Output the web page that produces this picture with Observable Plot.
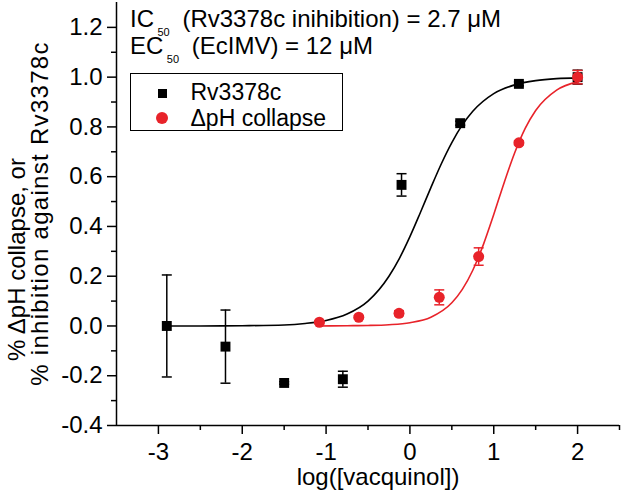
<!DOCTYPE html>
<html><head><meta charset="utf-8">
<script src="https://cdn.jsdelivr.net/npm/d3@7"></script>
<script src="https://cdn.jsdelivr.net/npm/@observablehq/plot@0.6"></script>
<style>
html,body{margin:0;padding:0;background:#fff;}
#wrap{position:relative;width:641px;height:499px;font-family:'Liberation Sans',Arial,Helvetica,sans-serif;color:#000;overflow:hidden;}
#wrap svg{position:absolute;left:0;top:0;}
.ann{position:absolute;left:130px;font-size:24px;line-height:20px;white-space:nowrap;}
.sub{font-size:11px;position:relative;top:9.4px;margin-left:3.5px;margin-right:6px;}
.lgbox{position:absolute;left:130px;top:73px;width:213px;height:58px;box-sizing:border-box;border:1.5px solid #000;}
.lgtxt{position:absolute;font-size:23px;line-height:20px;white-space:nowrap;}
.lgsq{position:absolute;width:9px;height:9px;}
.lgci{position:absolute;width:12px;height:12px;border-radius:50%;}
.ylab2 text{letter-spacing:1.3px;}
</style>
</head><body>
<div id="wrap"></div>
<script>
// ---------- data ----------
const seriesNames = ["Rv3378c", "\u0394pH collapse"];
const seriesColors = ["#000000", "#e8232a"];

// Rv3378c inhibition (black squares), x = log([vacquinol])
const rvX   = [-2.9, -2.2, -1.5, -0.8, -0.1, 0.6, 1.3, 2.0];
const rvY   = [0.000, -0.083, -0.229, -0.214, 0.567, 0.815, 0.973, 1.000];
const rvErr = [0.205, 0.147, 0.005, 0.032, 0.045, 0.008, 0.008, 0.028];

// ΔpH collapse (red circles)
const phX   = [-1.08, -0.61, -0.13, 0.35, 0.82, 1.30, 2.00];
const phY   = [0.015, 0.035, 0.051, 0.115, 0.279, 0.736, 1.000];
const phErr = [0.006, 0.006, 0.010, 0.030, 0.035, 0.008, 0.027];

// fitted curves
const rvCurveX = [-2.9, -2.5, -2.0, -1.5, -1.25, -1.0, -0.75, -0.5, -0.25, -0.125, 0.0, 0.125, 0.25, 0.375, 0.5, 0.625, 0.75, 1.0, 1.25, 1.5, 1.75, 2.0];
const rvCurveY = [0.000, 0.000, 0.001, 0.004, 0.010, 0.022, 0.048, 0.100, 0.200, 0.272, 0.359, 0.456, 0.556, 0.652, 0.737, 0.808, 0.863, 0.934, 0.969, 0.986, 0.994, 0.997];
const phCurveX = [-1.1, -0.75, -0.5, -0.25, 0.0, 0.25, 0.5, 0.625, 0.75, 0.875, 1.0, 1.125, 1.25, 1.375, 1.5, 1.75, 2.0];
const phCurveY = [0.000, 0.001, 0.002, 0.005, 0.013, 0.035, 0.093, 0.147, 0.224, 0.326, 0.448, 0.577, 0.696, 0.794, 0.866, 0.948, 0.981];

// axes
const xDomain = [-3.5, 2.5];
const yDomain = [-0.4, 1.3];
const xMajor = [-3, -2, -1, 0, 1, 2];
const xMinor = [-2.5, -1.5, -0.5, 0.5, 1.5, 2.5];
const yMajor = [-0.4, -0.2, 0.0, 0.2, 0.4, 0.6, 0.8, 1.0, 1.2];
const yMinor = [-0.3, -0.1, 0.1, 0.3, 0.5, 0.7, 0.9, 1.1];
const xLabel = "log([vacquinol])";
const yLabel1 = "% \u0394pH collapse, or";
const yLabel2 = "% inhibition against Rv3378c";
const annot1 = ["IC", "50", "(Rv3378c inihibition) = 2.7 \u03bcM"];
const annot2 = ["EC", "50", "(EcIMV) = 12 \u03bcM"];

// ---------- build ----------
const rv = rvX.map((x, i) => ({x, y: rvY[i], lo: rvY[i] - rvErr[i], hi: rvY[i] + rvErr[i]}));
const ph = phX.map((x, i) => ({x, y: phY[i], lo: phY[i] - phErr[i], hi: phY[i] + phErr[i]}));
const rvCurve = rvCurveX.map((x, i) => ({x, y: rvCurveY[i]}));
const phCurve = phCurveX.map((x, i) => ({x, y: phCurveY[i]}));

const cap = {draw(ctx, size) { const w = Math.sqrt(size / Math.PI); ctx.moveTo(-w, 0); ctx.lineTo(w, 0); }};

function errorMarks(data, color) {
  return [
    Plot.ruleX(data, {x: "x", y1: "lo", y2: "hi", stroke: color, strokeWidth: 1.5}),
    Plot.dot(data, {x: "x", y: "lo", symbol: cap, r: 5, stroke: color, strokeWidth: 1.5, fill: "none"}),
    Plot.dot(data, {x: "x", y: "hi", symbol: cap, r: 5, stroke: color, strokeWidth: 1.5, fill: "none"})
  ];
}

const chart = Plot.plot({
  width: 641, height: 499,
  marginLeft: 116, marginRight: 22, marginTop: 2, marginBottom: 74,
  x: {domain: xDomain},
  y: {domain: yDomain},
  style: {fontFamily: "'Liberation Sans', Arial, Helvetica, sans-serif", fontSize: "24px", color: "#000", background: "#fff", overflow: "visible"},
  marks: [
    Plot.axisX(xMajor, {tickSize: 9, tickPadding: 8, tickFormat: d => String(d), label: null, strokeWidth: 1.5, fontSize: 24}),
    Plot.axisX(xMinor, {tickSize: 5, fill: "none", label: null, strokeWidth: 1.5}),
    Plot.axisY(yMajor, {tickSize: 9, tickPadding: 5, tickFormat: d => d.toFixed(1), label: null, strokeWidth: 1.5, fontSize: 24}),
    Plot.axisY(yMinor, {tickSize: 5, fill: "none", label: null, strokeWidth: 1.5}),
    Plot.ruleX([xDomain[0]], {strokeWidth: 1.5}),
    Plot.ruleY([yDomain[0]], {strokeWidth: 1.5}),
    Plot.line(phCurve, {x: "x", y: "y", stroke: seriesColors[1], strokeWidth: 1.6, curve: "monotone-x"}),
    Plot.line(rvCurve, {x: "x", y: "y", stroke: seriesColors[0], strokeWidth: 1.6, curve: "monotone-x"}),
    Plot.dot(rv, {x: "x", y: "y", symbol: "square", r: 5.6, fill: seriesColors[0], stroke: "none"}),
    ...errorMarks(rv, seriesColors[0]),
    Plot.dot(ph, {x: "x", y: "y", symbol: "circle", r: 5.5, fill: seriesColors[1], stroke: "none"}),
    ...errorMarks(ph, seriesColors[1]),
    Plot.text([xLabel], {frameAnchor: "bottom", textAnchor: "middle", lineAnchor: "middle", dx: 10, dy: 52, fontSize: 24}),
    Plot.text([yLabel1], {frameAnchor: "left", rotate: -90, textAnchor: "middle", lineAnchor: "middle", dx: -99, dy: 45.5, fontSize: 24}),
    Plot.text([yLabel2], {frameAnchor: "left", rotate: -90, textAnchor: "middle", lineAnchor: "middle", dx: -76, dy: -0.5, fontSize: 24, className: "ylab2"})
  ]
});

const wrap = document.getElementById("wrap");
wrap.appendChild(chart);

// annotation (subscripted text)
function addAnn(parts, top) {
  const d = document.createElement("div");
  d.className = "ann";
  d.style.top = top + "px";
  d.appendChild(document.createTextNode(parts[0]));
  const s = document.createElement("span");
  s.className = "sub";
  s.textContent = parts[1];
  d.appendChild(s);
  d.appendChild(document.createTextNode(" " + parts[2]));
  wrap.appendChild(d);
}
addAnn(annot1, 9);
addAnn(annot2, 36);

// legend
const box = document.createElement("div");
box.className = "lgbox";
wrap.appendChild(box);
const sq = document.createElement("div");
sq.className = "lgsq"; sq.style.left = "157.5px"; sq.style.top = "88.5px"; sq.style.background = seriesColors[0];
wrap.appendChild(sq);
const ci = document.createElement("div");
ci.className = "lgci"; ci.style.left = "156px"; ci.style.top = "111.5px"; ci.style.background = seriesColors[1];
wrap.appendChild(ci);
// baseline ≈ top + 17.8 for 23px text in a 20px line box
[[seriesNames[0], 82.2], [seriesNames[1], 108.2]].forEach(([t, top]) => {
  const e = document.createElement("div");
  e.className = "lgtxt"; e.style.left = "190.5px"; e.style.top = top + "px"; e.textContent = t;
  wrap.appendChild(e);
});
</script>
</body></html>
